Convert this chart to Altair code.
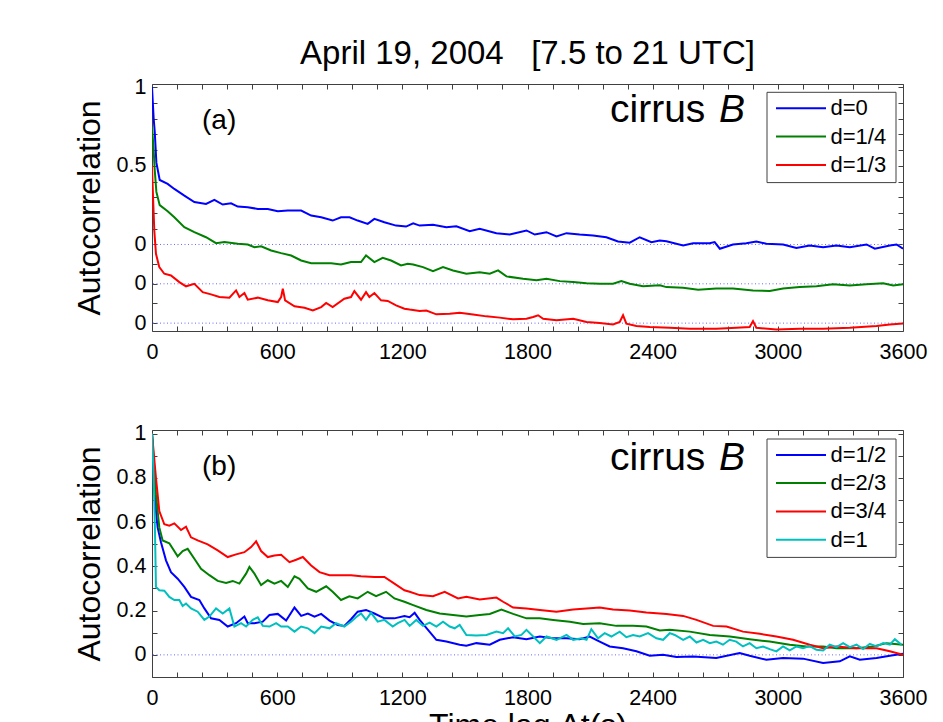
import altair as alt
import pandas as pd

# ---------------- text ----------------
TITLE = "April 19, 2004\u00a0\u00a0\u00a0[7.5 to 21 UTC]"
X_TITLE = "Time lag \u0394t(s)"
Y_TITLE = "Autocorrelation"
TAG_A = "(a)"
TAG_B = "(b)"
CIRRUS = "cirrus"
CIRRUS_B = "B"

# ---------------- ticks ----------------
X_TICKS = list(range(0, 3601, 120))
X_LABELED = [0, 600, 1200, 1800, 2400, 3000, 3600]

A_YTICKS = [1.0, 0.9, 0.8, 0.7, 0.6, 0.5, 0.4, 0.3, 0.2, 0.1, 0.0, -0.125, -0.25, -0.375, -0.5]
A_YLABELS = {1.0: "1", 0.5: "0.5", 0.0: "0", -0.25: "0", -0.5: "0"}
B_YTICKS = [1.0, 0.9, 0.8, 0.7, 0.6, 0.5, 0.4, 0.3, 0.2, 0.1, 0.0, -0.1]
B_YLABELS = {1.0: "1", 0.8: "0.8", 0.6: "0.6", 0.4: "0.4", 0.2: "0.2", 0.0: "0"}

# ---------------- panel (a): series (time lag s, autocorrelation) ----------------
A_NAMES = ["d=0", "d=1/4", "d=1/3"]
A_COLORS = ["#0000ff", "#008000", "#ff0000"]
A_OFFSETS = [0.0, -0.25, -0.5]

A_D0 = [(0, 1.0), (8, 0.8), (13, 0.72), (21, 0.52), (37, 0.41), (75, 0.385), (107, 0.353), (155, 0.31),
        (203, 0.27), (259, 0.258), (299, 0.284), (339, 0.254), (379, 0.262), (411, 0.241), (459, 0.237),
        (507, 0.226), (555, 0.226), (603, 0.211), (651, 0.216), (715, 0.216), (763, 0.184), (811, 0.173),
        (866, 0.152), (906, 0.173), (947, 0.173), (986, 0.152), (1034, 0.131), (1066, 0.163), (1114, 0.141),
        (1170, 0.12), (1218, 0.114), (1252, 0.135), (1283, 0.12), (1347, 0.125), (1411, 0.11), (1459, 0.116),
        (1523, 0.084), (1571, 0.1), (1651, 0.072), (1715, 0.063), (1795, 0.089), (1835, 0.063), (1891, 0.078),
        (1939, 0.051), (1987, 0.072), (2050, 0.063), (2114, 0.057), (2178, 0.046), (2234, 0.019), (2290, 0.011),
        (2338, 0.046), (2394, 0.015), (2434, 0.025), (2466, 0.021), (2546, -0.006), (2594, 0.008), (2673, 0.008),
        (2697, 0.015), (2722, -0.027), (2785, 0.0), (2849, 0.008), (2897, 0.019), (2945, 0.004), (3025, 0.0),
        (3089, -0.023), (3153, -0.006), (3217, -0.017), (3281, -0.006), (3345, -0.017), (3425, 0.0),
        (3465, -0.027), (3537, -0.006), (3569, 0.0), (3600, -0.027)]

A_D14 = [(0, 1.0), (8, 0.85), (13, 0.726), (21, 0.584), (37, 0.5), (75, 0.461), (107, 0.423), (155, 0.36),
         (203, 0.328), (259, 0.296), (307, 0.258), (347, 0.265), (411, 0.254), (459, 0.25), (491, 0.233),
         (523, 0.238), (571, 0.212), (619, 0.195), (667, 0.18), (715, 0.148), (763, 0.131), (811, 0.131),
         (859, 0.131), (906, 0.123), (954, 0.138), (1002, 0.138), (1026, 0.18), (1066, 0.138), (1106, 0.165),
         (1146, 0.148), (1194, 0.117), (1226, 0.127), (1252, 0.123), (1299, 0.106), (1347, 0.081), (1395, 0.106),
         (1443, 0.085), (1507, 0.064), (1571, 0.074), (1619, 0.064), (1659, 0.085), (1699, 0.047), (1779, 0.032),
         (1843, 0.022), (1891, 0.032), (1955, 0.017), (2019, 0.011), (2083, 0.004), (2146, 0.0), (2210, 0.0),
         (2250, 0.017), (2290, 0.0), (2354, -0.016), (2434, -0.01), (2466, -0.021), (2546, -0.025),
         (2618, -0.037), (2705, -0.03), (2785, -0.03), (2881, -0.042), (2961, -0.046), (3025, -0.03),
         (3105, -0.021), (3185, -0.016), (3265, -0.003), (3345, -0.01), (3425, -0.003), (3505, 0.004),
         (3553, -0.01), (3600, -0.003)]

A_D13 = [(0, 1.0), (5, 0.8), (11, 0.589), (19, 0.441), (35, 0.356), (59, 0.314), (91, 0.303), (131, 0.261),
         (163, 0.234), (203, 0.25), (243, 0.197), (283, 0.183), (323, 0.166), (371, 0.162), (403, 0.208),
         (419, 0.166), (443, 0.191), (459, 0.149), (507, 0.162), (555, 0.145), (603, 0.134), (619, 0.166),
         (627, 0.219), (638, 0.145), (683, 0.107), (731, 0.098), (771, 0.081), (811, 0.102), (835, 0.128),
         (866, 0.102), (922, 0.155), (954, 0.166), (970, 0.204), (1002, 0.149), (1026, 0.197), (1042, 0.166),
         (1066, 0.191), (1098, 0.145), (1130, 0.141), (1170, 0.113), (1210, 0.092), (1235, 0.086), (1283, 0.077),
         (1315, 0.08), (1363, 0.056), (1427, 0.06), (1475, 0.066), (1539, 0.055), (1603, 0.043), (1667, 0.035),
         (1731, 0.024), (1795, 0.028), (1827, 0.039), (1851, 0.05), (1875, 0.028), (1939, 0.018), (2019, 0.028),
         (2083, 0.007), (2146, 0.001), (2210, -0.008), (2242, 0.007), (2258, 0.05), (2274, -0.003),
         (2322, -0.018), (2386, -0.025), (2482, -0.029), (2578, -0.035), (2705, -0.035), (2801, -0.029),
         (2865, -0.025), (2881, 0.013), (2897, -0.029), (2993, -0.041), (3105, -0.035), (3217, -0.035),
         (3345, -0.029), (3473, -0.018), (3537, -0.008), (3600, -0.003)]

# ---------------- panel (b) ----------------
B_NAMES = ["d=1/2", "d=2/3", "d=3/4", "d=1"]
B_COLORS = ["#0000ff", "#008000", "#ff0000", "#00bfbf"]
B_OFFSETS = [0.0, 0.0, 0.0, 0.0]

B_D12 = [(0, 1.0), (19, 0.65), (27, 0.576), (43, 0.509), (67, 0.427), (91, 0.374), (123, 0.344), (155, 0.307),
         (187, 0.262), (227, 0.248), (251, 0.21), (283, 0.165), (323, 0.158), (363, 0.128), (403, 0.143),
         (443, 0.173), (459, 0.143), (491, 0.143), (531, 0.15), (563, 0.18), (603, 0.185), (643, 0.155),
         (683, 0.214), (715, 0.176), (747, 0.187), (779, 0.173), (811, 0.185), (851, 0.155), (890, 0.135),
         (922, 0.131), (954, 0.161), (986, 0.195), (1026, 0.203), (1066, 0.187), (1114, 0.165), (1162, 0.165),
         (1210, 0.176), (1235, 0.17), (1259, 0.19), (1283, 0.158), (1323, 0.113), (1363, 0.068), (1411, 0.06),
         (1475, 0.046), (1507, 0.041), (1555, 0.053), (1619, 0.046), (1667, 0.068), (1731, 0.08), (1795, 0.071),
         (1859, 0.083), (1923, 0.075), (1987, 0.075), (2050, 0.071), (2098, 0.083), (2146, 0.06), (2194, 0.038),
         (2258, 0.03), (2322, 0.016), (2386, -0.004), (2450, 0.0), (2514, -0.01), (2594, -0.007), (2705, -0.014),
         (2817, 0.008), (2865, -0.004), (2945, -0.022), (3025, -0.014), (3121, -0.017), (3217, -0.037),
         (3297, -0.029), (3345, -0.007), (3393, -0.022), (3473, -0.014), (3537, -0.004), (3600, 0.005)]

B_D23 = [(0, 1.0), (19, 0.725), (35, 0.576), (51, 0.517), (83, 0.504), (123, 0.445), (147, 0.469), (171, 0.479),
         (203, 0.434), (235, 0.389), (275, 0.36), (315, 0.334), (355, 0.325), (387, 0.334), (419, 0.322),
         (451, 0.367), (467, 0.397), (491, 0.367), (523, 0.315), (555, 0.337), (587, 0.322), (619, 0.334),
         (651, 0.307), (683, 0.355), (707, 0.344), (747, 0.3), (787, 0.285), (835, 0.31), (866, 0.285),
         (906, 0.248), (946, 0.265), (986, 0.255), (1034, 0.285), (1074, 0.265), (1122, 0.285), (1162, 0.255),
         (1210, 0.24), (1252, 0.225), (1315, 0.203), (1379, 0.187), (1443, 0.18), (1507, 0.173), (1571, 0.18),
         (1619, 0.185), (1675, 0.205), (1731, 0.185), (1795, 0.165), (1859, 0.165), (1923, 0.158), (2003, 0.15),
         (2067, 0.14), (2146, 0.143), (2226, 0.131), (2306, 0.131), (2370, 0.128), (2434, 0.11), (2482, 0.113),
         (2578, 0.105), (2674, 0.09), (2770, 0.083), (2865, 0.071), (2961, 0.06), (3057, 0.046), (3137, 0.038),
         (3217, 0.038), (3281, 0.03), (3377, 0.03), (3457, 0.038), (3521, 0.053), (3600, 0.046)]

B_D34 = [(0, 1.0), (19, 0.8), (35, 0.65), (59, 0.59), (83, 0.584), (107, 0.594), (139, 0.564), (163, 0.579),
         (187, 0.531), (219, 0.517), (267, 0.499), (315, 0.472), (363, 0.442), (403, 0.454), (443, 0.464),
         (475, 0.487), (499, 0.513), (523, 0.469), (555, 0.442), (587, 0.449), (619, 0.452), (659, 0.419),
         (691, 0.43), (723, 0.442), (763, 0.404), (803, 0.374), (851, 0.36), (906, 0.36), (954, 0.36),
         (1002, 0.355), (1066, 0.352), (1114, 0.352), (1162, 0.322), (1210, 0.292), (1235, 0.285), (1283, 0.27),
         (1347, 0.265), (1403, 0.285), (1467, 0.255), (1507, 0.262), (1571, 0.25), (1651, 0.259), (1683, 0.24),
         (1731, 0.214), (1795, 0.21), (1859, 0.203), (1939, 0.195), (2019, 0.205), (2083, 0.21), (2146, 0.214),
         (2210, 0.205), (2290, 0.2), (2370, 0.191), (2466, 0.185), (2546, 0.176), (2610, 0.158), (2690, 0.131),
         (2754, 0.128), (2833, 0.105), (2913, 0.095), (2993, 0.083), (3073, 0.068), (3153, 0.046), (3217, 0.03),
         (3281, 0.038), (3377, 0.03), (3473, 0.03), (3537, 0.016), (3600, 0.0)]

B_D1 = [(0, 1.0), (8, 0.8), (14, 0.576), (19, 0.307), (35, 0.292), (59, 0.29), (83, 0.262), (107, 0.248),
        (131, 0.248), (147, 0.221), (163, 0.232), (187, 0.21), (219, 0.195), (251, 0.158), (275, 0.173),
        (307, 0.21), (339, 0.187), (371, 0.21), (395, 0.128), (427, 0.143), (451, 0.128), (483, 0.158),
        (507, 0.17), (531, 0.131), (563, 0.128), (595, 0.143), (619, 0.128), (651, 0.128), (683, 0.105),
        (715, 0.128), (747, 0.12), (779, 0.098), (811, 0.128), (851, 0.12), (882, 0.143), (922, 0.128),
        (954, 0.15), (978, 0.17), (1002, 0.187), (1026, 0.158), (1050, 0.19), (1082, 0.15), (1114, 0.158),
        (1154, 0.128), (1178, 0.143), (1211, 0.158), (1235, 0.131), (1267, 0.158), (1299, 0.131), (1331, 0.146),
        (1363, 0.128), (1395, 0.15), (1427, 0.128), (1451, 0.12), (1475, 0.135), (1507, 0.09), (1555, 0.087),
        (1603, 0.09), (1651, 0.105), (1683, 0.098), (1707, 0.12), (1739, 0.083), (1771, 0.09), (1795, 0.113),
        (1827, 0.083), (1859, 0.053), (1891, 0.083), (1939, 0.068), (1987, 0.09), (2019, 0.068), (2059, 0.075),
        (2083, 0.068), (2106, 0.116), (2138, 0.075), (2170, 0.098), (2202, 0.083), (2242, 0.105), (2274, 0.08),
        (2306, 0.09), (2338, 0.083), (2378, 0.098), (2418, 0.075), (2450, 0.068), (2482, 0.098), (2506, 0.09),
        (2546, 0.068), (2578, 0.083), (2610, 0.056), (2642, 0.068), (2674, 0.053), (2705, 0.06), (2737, 0.046),
        (2769, 0.068), (2801, 0.06), (2833, 0.038), (2865, 0.053), (2897, 0.03), (2929, 0.038), (2961, 0.026),
        (2993, 0.016), (3025, 0.038), (3057, 0.02), (3089, 0.038), (3121, 0.03), (3153, 0.04), (3185, 0.023),
        (3217, 0.02), (3249, 0.046), (3281, 0.035), (3313, 0.053), (3345, 0.035), (3377, 0.046), (3409, 0.026),
        (3441, 0.05), (3473, 0.038), (3505, 0.053), (3537, 0.046), (3561, 0.071), (3593, 0.046)]

A_SERIES = [A_D0, A_D14, A_D13]
B_SERIES = [B_D12, B_D23, B_D34, B_D1]
A_ZERO_LINES = [0.0, -0.25, -0.5]
B_ZERO_LINES = [0.0]

# ---------------- layout / style (not data) ----------------
W = 751
H = 247
FONT = "Liberation Sans"
FRAME = "#404040"
DOT = "#6a6aff"


def label_expr(mapping):
    parts = [f"abs(datum.value - ({v})) < 1e-6 ? '{t}'" for v, t in mapping.items()]
    return " : ".join(parts) + " : ''"


X_LABEL_EXPR = " || ".join(f"datum.value == {v}" for v in X_LABELED)
X_LABEL_EXPR = f"({X_LABEL_EXPR}) ? format(datum.value, 'd') : ''"


def panel(series, names, colors, offsets, zero_lines, ydom, yticks, ylabels, tag, show_xtitle, rows, box):
    xs = alt.Scale(domain=[0, 3600], nice=False, zero=False)
    ys = alt.Scale(domain=ydom, nice=False, zero=False)
    main_x = alt.Axis(orient="bottom", values=X_TICKS, labelExpr=X_LABEL_EXPR, offset=-5, tickSize=5,
                      domain=False, grid=False, labelPadding=10, labelFontSize=21.5, labelColor="black",
                      tickColor=FRAME, labelFlush=False, labelOverlap=False, labelBound=False,
                      title=X_TITLE if show_xtitle else None, titleFontSize=32, titleFontWeight="normal",
                      titleColor="black", titlePadding=2)
    main_y = alt.Axis(orient="left", values=yticks, labelExpr=label_expr(ylabels), offset=-5, tickSize=5,
                      domain=False, grid=False, labelPadding=6, labelFontSize=21.5, labelColor="black",
                      tickColor=FRAME, labelOverlap=False, labelBound=False, labelFlush=False,
                      title=Y_TITLE, titleFontSize=32, titleFontWeight="normal", titleColor="black",
                      titlePadding=10)
    mirror_x = alt.Axis(orient="top", values=X_TICKS, labels=False, offset=-5, tickSize=5, domain=False,
                        grid=False, tickColor=FRAME, title=None)
    mirror_y = alt.Axis(orient="right", values=yticks, labels=False, offset=-5, tickSize=5, domain=False,
                        grid=False, tickColor=FRAME, title=None)

    layers = []
    rules = alt.Chart(pd.DataFrame({"z": zero_lines})).mark_rule(
        color=DOT, strokeWidth=1, strokeDash=[1, 2.5]).encode(y=alt.Y("z:Q", scale=ys, axis=None))
    layers.append(rules)
    for i, (s, c, off) in enumerate(zip(series, colors, offsets)):
        df = pd.DataFrame(s, columns=["t", "v"])
        df["y"] = df["v"] + off
        layers.append(alt.Chart(df).mark_line(color=c, strokeWidth=2, clip=True).encode(
            x=alt.X("t:Q", scale=xs, axis=main_x if i == 0 else None),
            y=alt.Y("y:Q", scale=ys, axis=main_y if i == 0 else None)))
    df0 = pd.DataFrame(series[0], columns=["t", "v"])
    layers.append(alt.Chart(df0).mark_line(opacity=0).encode(
        x=alt.X("t:Q", scale=xs, axis=mirror_x), y=alt.Y("v:Q", scale=ys, axis=mirror_y)))

    one = alt.Data(values=[{}])
    layers.append(alt.Chart(one).mark_text(text=tag, fontSize=28, align="left", baseline="middle",
                                           color="black").encode(x=alt.value(50), y=alt.value(37)))
    layers.append(alt.Chart(one).mark_text(text=CIRRUS, fontSize=39, align="left", baseline="alphabetic",
                                           color="black").encode(x=alt.value(458), y=alt.value(box["cy"])))
    layers.append(alt.Chart(one).mark_text(text=CIRRUS_B, fontSize=39, fontStyle="italic", align="left",
                                           baseline="alphabetic", color="black").encode(
        x=alt.value(567), y=alt.value(box["cy"])))
    # legend
    layers.append(alt.Chart(one).mark_rect(fill="white", stroke=FRAME, strokeWidth=1).encode(
        x=alt.value(615), x2=alt.value(744), y=alt.value(box["y0"]), y2=alt.value(box["y1"])))
    for name, c, ry in zip(names, colors, rows):
        layers.append(alt.Chart(one).mark_rule(color=c, strokeWidth=2).encode(
            x=alt.value(624), x2=alt.value(674), y=alt.value(ry)))
        layers.append(alt.Chart(one).mark_text(text=name, fontSize=22, align="left", baseline="middle",
                                               color="black").encode(x=alt.value(678.5), y=alt.value(ry)))
    return alt.layer(*layers).resolve_axis(x="independent", y="independent").properties(width=W, height=H)


top = panel(A_SERIES, A_NAMES, A_COLORS, A_OFFSETS, A_ZERO_LINES, [-0.55, 1.02], A_YTICKS, A_YLABELS, TAG_A,
            False, [24.3, 52.6, 81], {"y0": 8.3, "y1": 98.6, "cy": 38.3})
top = top.properties(title=alt.TitleParams(TITLE, fontSize=33, fontWeight="normal", color="black",
                                           anchor="middle", frame="group", offset=5))
bottom = panel(B_SERIES, B_NAMES, B_COLORS, B_OFFSETS, B_ZERO_LINES, [-0.1, 1.016], B_YTICKS, B_YLABELS, TAG_B,
               True, [25, 53, 81.4, 109.7], {"y0": 9, "y1": 127.4, "cy": 39.7})

chart = alt.vconcat(top, bottom, spacing=59).properties(
    padding={"left": 64, "top": 29, "right": 5, "bottom": 5}
).configure(font=FONT).configure_view(stroke=FRAME, strokeWidth=1)

chart.save("out.html", embed_options={"renderer": "svg", "actions": False})
